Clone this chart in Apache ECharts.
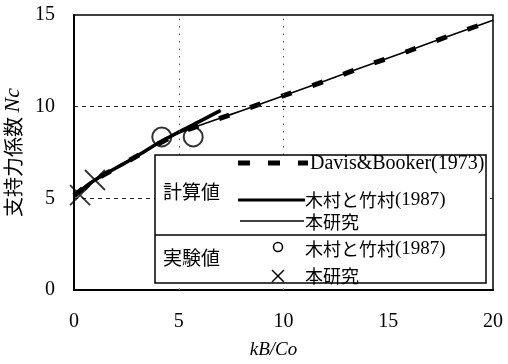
<!DOCTYPE html>
<html><head><meta charset="utf-8">
<script src="https://cdn.jsdelivr.net/npm/echarts@6/dist/echarts.min.js"></script>
<style>html,body{margin:0;padding:0;background:#fff}#c{width:508px;height:364px}</style>
</head><body><div id="c"></div>
<script>
// ---- data ----
const xTicks = [0, 5, 10, 15, 20];
const yTicks = [0, 5, 10, 15];
const davisX = [0, 0.5, 1, 2, 3, 4, 5, 6, 7, 8, 10, 12, 14, 16, 18, 20];
const davisY = [5.14, 5.6, 6.0, 6.65, 7.3, 7.95, 8.55, 8.98, 9.38, 9.78, 10.6, 11.4, 12.25, 13.05, 13.9, 14.7];
const kimuraX = [0, 0.5, 1, 2, 3, 4, 5, 6, 7];
const kimuraY = [5.14, 5.6, 6.0, 6.65, 7.3, 8.0, 8.62, 9.2, 9.8];
const studyX = [0, 0.5, 1, 2, 3, 4, 5, 6, 7, 8, 10, 12, 14, 16, 18, 20];
const studyY = [5.14, 5.62, 6.02, 6.68, 7.32, 7.97, 8.55, 8.98, 9.38, 9.78, 10.6, 11.42, 12.25, 13.07, 13.9, 14.72];
const expKimuraX = [4.19, 5.69];
const expKimuraY = [8.35, 8.35];
const expStudyX = [0.29, 1.0];
const expStudyY = [5.18, 6.0];
const names = ['Davis&Booker(1973)', '木村と竹村(1987)', '本研究'];
const groupLabels = ['計算値', '実験値'];

const zip = (a, b) => a.map((v, i) => [v, b[i]]);
const SERIF = '"Liberation Serif","DejaVu Serif",serif';
const JP = '"Noto Sans CJK JP","Noto Sans CJK SC",sans-serif';
const cross = 'path://M0,0L10,10M10,0L0,10';

const chart = echarts.init(document.getElementById('c'), null, {renderer: 'canvas'});
chart.setOption({
  backgroundColor: '#fff',
  animation: false,
  grid: {left: 74, right: 15, top: 15, bottom: 74, containLabel: false, outerBoundsMode: 'none',
    show: true, borderColor: '#000', borderWidth: 1.5, backgroundColor: 'transparent'},
  xAxis: {
    type: 'value', min: xTicks[0], max: xTicks[xTicks.length - 1], interval: 5,
    axisLine: {lineStyle: {color: '#000', width: 2}}, axisTick: {show: false}, splitLine: {show: false},
    axisLabel: {color: '#000', fontFamily: SERIF, fontSize: 20, margin: 22},
    name: 'kB/Co', nameLocation: 'middle', nameGap: 50,
    nameTextStyle: {color: '#000', fontFamily: SERIF, fontSize: 19, fontStyle: 'italic', padding: [0, 20, 0, 0]}
  },
  yAxis: {
    type: 'value', min: yTicks[0], max: yTicks[yTicks.length - 1], interval: 5,
    axisLine: {lineStyle: {color: '#000', width: 2}}, axisTick: {show: false}, splitLine: {show: false},
    axisLabel: {color: '#000', fontFamily: SERIF, fontSize: 20, margin: 19},
    name: '支持力係数 {i|Nc}', nameLocation: 'middle', nameGap: 42,
    nameTextStyle: {color: '#000', fontFamily: JP, fontSize: 20,
      rich: {i: {fontFamily: SERIF, fontStyle: 'italic', fontSize: 22, color: '#000'}}}
  },
  series: [
    {
      type: 'line', name: names[0], data: zip(davisX, davisY), smooth: 0.3, symbol: 'none', z: 3,
      lineStyle: {color: '#000', width: 5, type: [11, 22], cap: 'butt'},
      markLine: {
        silent: true, symbol: ['none', 'none'], label: {show: false},
        data: [
          {xAxis: 5, lineStyle: {color: '#555', width: 1, type: [1.5, 6]}},
          {xAxis: 10, lineStyle: {color: '#555', width: 1, type: [1.5, 6]}},
          {yAxis: 5, lineStyle: {color: '#222', width: 1, type: [4, 4]}},
          {yAxis: 10, lineStyle: {color: '#222', width: 1, type: [4, 4]}}
        ]
      }
    },
    {type: 'line', name: names[1], data: zip(kimuraX, kimuraY), smooth: 0.3, symbol: 'none', z: 4,
      lineStyle: {color: '#000', width: 3.5}},
    {type: 'line', name: names[2], data: zip(studyX, studyY), smooth: 0.3, symbol: 'none', z: 5,
      lineStyle: {color: '#000', width: 1.6}},
    {type: 'scatter', name: 'exp1', data: zip(expKimuraX, expKimuraY), symbol: 'circle', symbolSize: 19, z: 6,
      itemStyle: {color: 'transparent', borderColor: '#000', borderWidth: 2}},
    {type: 'scatter', name: 'exp2', data: zip(expStudyX, expStudyY), symbol: cross, symbolSize: 20, z: 6,
      itemStyle: {color: 'transparent', borderColor: '#000', borderWidth: 1.8}}
  ],
  graphic: [
    {type: 'rect', z: 100, shape: {x: 155, y: 155, width: 331, height: 128},
      style: {fill: '#fff', stroke: '#000', lineWidth: 1.5}},
    {type: 'line', z: 101, shape: {x1: 155, y1: 235, x2: 486, y2: 235}, style: {stroke: '#000', lineWidth: 1.5}},
    {type: 'text', z: 101, x: 163, y: 192, style: {text: groupLabels[0], font: '19px ' + JP, fill: '#000', verticalAlign: 'middle'}},
    {type: 'text', z: 101, x: 163, y: 258, style: {text: groupLabels[1], font: '19px ' + JP, fill: '#000', verticalAlign: 'middle'}},
    {type: 'line', z: 101, shape: {x1: 238, y1: 163, x2: 308, y2: 163}, style: {stroke: '#000', lineWidth: 5, lineDash: [12, 18]}},
    {type: 'line', z: 101, shape: {x1: 238, y1: 200, x2: 305, y2: 200}, style: {stroke: '#000', lineWidth: 3}},
    {type: 'line', z: 101, shape: {x1: 240, y1: 221, x2: 304, y2: 221}, style: {stroke: '#000', lineWidth: 1.5}},
    {type: 'circle', z: 101, shape: {cx: 278, cy: 247, r: 4.5}, style: {fill: 'none', stroke: '#000', lineWidth: 1.5}},
    {type: 'line', z: 101, shape: {x1: 272, y1: 270, x2: 284, y2: 282}, style: {stroke: '#000', lineWidth: 1.5}},
    {type: 'line', z: 101, shape: {x1: 284, y1: 270, x2: 272, y2: 282}, style: {stroke: '#000', lineWidth: 1.5}},
    {type: 'text', z: 101, x: 310, y: 164, style: {text: names[0], font: '20px ' + SERIF, fill: '#000', verticalAlign: 'middle'}},
    {type: 'text', z: 101, x: 305, y: 200, style: {text: '{j|木村と竹村}{s|(1987)}', fill: '#000', verticalAlign: 'middle',
      rich: {j: {fontFamily: JP, fontSize: 18, fill: '#000'}, s: {fontFamily: SERIF, fontSize: 19, fill: '#000'}}}},
    {type: 'text', z: 101, x: 305, y: 222, style: {text: names[2], font: '18px ' + JP, fill: '#000', verticalAlign: 'middle'}},
    {type: 'text', z: 101, x: 305, y: 249, style: {text: '{j|木村と竹村}{s|(1987)}', fill: '#000', verticalAlign: 'middle',
      rich: {j: {fontFamily: JP, fontSize: 18, fill: '#000'}, s: {fontFamily: SERIF, fontSize: 19, fill: '#000'}}}},
    {type: 'text', z: 101, x: 305, y: 276, style: {text: names[2], font: '18px ' + JP, fill: '#000', verticalAlign: 'middle'}}
  ]
});
</script></body></html>
